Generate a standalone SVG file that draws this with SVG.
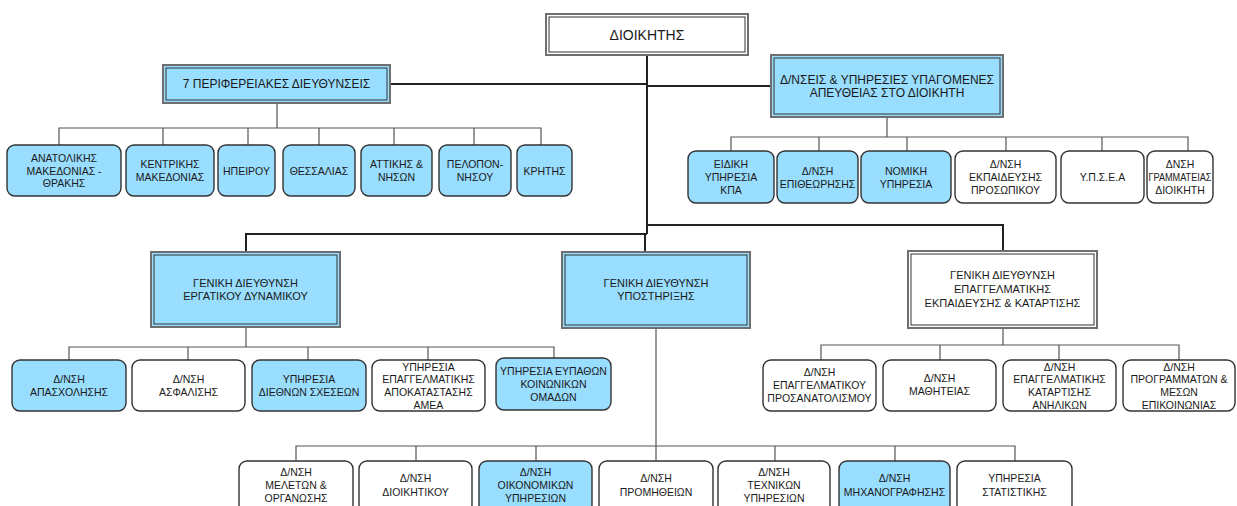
<svg xmlns="http://www.w3.org/2000/svg" width="1237" height="506" viewBox="0 0 1237 506">
  <style>
    text { font-family: "Liberation Sans", Arial, sans-serif; fill: #1a1a1a; text-anchor: middle; }
    .t { font-size: 10.5px; }
    .tg { font-size: 11px; }
    .tl { font-size: 12px; }
    .tt { font-size: 14px; }
    .box { stroke: #333; stroke-width: 1.4; }
    .blue { fill: #99ddff; }
    .white { fill: #ffffff; }
    .outer { stroke: #6f6f6f; stroke-width: 2; }
    .inner { fill: none; stroke: #333; stroke-width: 1; }
    .main { stroke: #222; stroke-width: 2; fill: none; }
    .sub { stroke: #555; stroke-width: 1.2; fill: none; }
  </style>

  <!-- connectors -->
  <g id="connectors">
    <!-- trunk from the head box -->
    <path class="main" d="M647 55 V234"/>
    <path class="main" d="M390 84 H647"/>
    <path class="main" d="M647 86 H771"/>
    <path class="main" d="M647 225 H1003 V251"/>
    <path class="main" d="M647 234 H246 V252"/>
    <path class="main" d="M645 234 V252"/>
    <!-- regional directorates -->
    <path class="sub" d="M277 103 V128"/>
    <path class="sub" d="M59 145 V128 H541 V145 M163 128 V145 M248 128 V145 M319 128 V145 M394 128 V145 M474 128 V145"/>
    <!-- units reporting to the head -->
    <path class="sub" d="M887 117 V137"/>
    <path class="sub" d="M731 151 V137 H1188 V151 M819 137 V151 M907 137 V151 M1006 137 V151 M1102 137 V151"/>
    <!-- labour force general directorate -->
    <path class="sub" d="M246 327 V347"/>
    <path class="sub" d="M69 360 V347 H554 V358 M188 347 V360 M308 347 V360 M428 347 V360"/>
    <!-- vocational training general directorate -->
    <path class="sub" d="M1003 328 V345"/>
    <path class="sub" d="M821 360 V345 H1179 V360 M940 345 V360 M1059 345 V360"/>
    <!-- support general directorate -->
    <path class="sub" d="M656 328 V461"/>
    <path class="sub" d="M296 461 V446 H1015 V461 M416 446 V461 M536 446 V461 M775 446 V461 M895 446 V461"/>
  </g>

  <!-- head -->
  <g id="dioikitis">
    <rect class="white outer" x="546" y="14" width="202" height="41"/>
    <rect class="inner" x="549" y="17" width="196" height="35"/>
    <text class="tt" x="647" y="40">ΔΙΟΙΚΗΤΗΣ</text>
  </g>

  <g id="perifereiakes">
    <rect class="blue outer" x="163" y="65" width="227" height="38"/>
    <rect class="inner" x="166" y="68" width="221" height="32"/>
    <text class="tl" x="276.5" y="88">7 ΠΕΡΙΦΕΡΕΙΑΚΕΣ ΔΙΕΥΘΥΝΣΕΙΣ</text>
  </g>

  <g id="ypagomenes">
    <rect class="blue outer" x="771" y="55" width="232" height="62"/>
    <rect class="inner" x="774" y="58" width="226" height="56"/>
    <text class="tl" x="887" y="83.5">Δ/ΝΣΕΙΣ &amp; ΥΠΗΡΕΣΙΕΣ ΥΠΑΓΟΜΕΝΕΣ</text>
    <text class="tl" x="887" y="97">ΑΠΕΥΘΕΙΑΣ ΣΤΟ ΔΙΟΙΚΗΤΗ</text>
  </g>

  <!-- regional directorates -->
  <g id="anatolikis">
    <rect class="box blue" x="7" y="145" width="114" height="51" rx="8"/>
    <text class="t" x="64" y="162">ΑΝΑΤΟΛΙΚΗΣ</text>
    <text class="t" x="64" y="174.5">ΜΑΚΕΔΟΝΙΑΣ -</text>
    <text class="t" x="64" y="187">ΘΡΑΚΗΣ</text>
  </g>
  <g id="kentrikis">
    <rect class="box blue" x="126" y="145" width="88" height="51" rx="8"/>
    <text class="t" x="170" y="168">ΚΕΝΤΡΙΚΗΣ</text>
    <text class="t" x="170" y="181">ΜΑΚΕΔΟΝΙΑΣ</text>
  </g>
  <g id="ipeirou">
    <rect class="box blue" x="218" y="145" width="57" height="51" rx="8"/>
    <text class="t" x="246.5" y="174.5">ΗΠΕΙΡΟΥ</text>
  </g>
  <g id="thessalias">
    <rect class="box blue" x="283" y="145" width="72" height="51" rx="8"/>
    <text class="t" x="319" y="174.5">ΘΕΣΣΑΛΙΑΣ</text>
  </g>
  <g id="attikis">
    <rect class="box blue" x="361" y="145" width="71" height="51" rx="8"/>
    <text class="t" x="396.5" y="168">ΑΤΤΙΚΗΣ &amp;</text>
    <text class="t" x="396.5" y="181">ΝΗΣΩΝ</text>
  </g>
  <g id="peloponnisou">
    <rect class="box blue" x="439" y="145" width="72" height="51" rx="8"/>
    <text class="t" x="475" y="168">ΠΕΛΟΠΟΝ-</text>
    <text class="t" x="475" y="181">ΝΗΣΟΥ</text>
  </g>
  <g id="kritis">
    <rect class="box blue" x="517" y="145" width="55" height="51" rx="8"/>
    <text class="t" x="544.5" y="174.5">ΚΡΗΤΗΣ</text>
  </g>

  <!-- units reporting to the head -->
  <g id="eidiki">
    <rect class="box blue" x="688" y="151" width="86" height="52" rx="8"/>
    <text class="t" x="731" y="168">ΕΙΔΙΚΗ</text>
    <text class="t" x="731" y="181">ΥΠΗΡΕΣΙΑ</text>
    <text class="t" x="731" y="194">ΚΠΑ</text>
  </g>
  <g id="epitheorisis">
    <rect class="box blue" x="777" y="151" width="81" height="52" rx="8"/>
    <text class="t" x="817.5" y="175">Δ/ΝΣΗ</text>
    <text class="t" x="817.5" y="188">ΕΠΙΘΕΩΡΗΣΗΣ</text>
  </g>
  <g id="nomiki">
    <rect class="box blue" x="861" y="151" width="90" height="52" rx="8"/>
    <text class="t" x="906" y="175">ΝΟΜΙΚΗ</text>
    <text class="t" x="906" y="188">ΥΠΗΡΕΣΙΑ</text>
  </g>
  <g id="ekpaidefsis-prosopikou">
    <rect class="box white" x="955" y="151" width="101" height="52" rx="8"/>
    <text class="t" x="1005.5" y="168">Δ/ΝΣΗ</text>
    <text class="t" x="1005.5" y="181">ΕΚΠΑΙΔΕΥΣΗΣ</text>
    <text class="t" x="1005.5" y="194">ΠΡΟΣΩΠΙΚΟΥ</text>
  </g>
  <g id="ypsea">
    <rect class="box white" x="1061" y="151" width="83" height="52" rx="8"/>
    <text class="t" x="1102.5" y="181">Υ.Π.Σ.Ε.Α</text>
  </g>
  <g id="grammateias">
    <rect class="box white" x="1147" y="151" width="66" height="52" rx="8"/>
    <text class="t" x="1180" y="168">ΔΝΣΗ</text>
    <text class="t" x="1180" y="181" textLength="63" lengthAdjust="spacingAndGlyphs">ΓΡΑΜΜΑΤΕΙΑΣ</text>
    <text class="t" x="1180" y="194">ΔΙΟΙΚΗΤΗ</text>
  </g>

  <!-- general directorates -->
  <g id="gd-ergatikou">
    <rect class="blue outer" x="151" y="252" width="189" height="75"/>
    <rect class="inner" x="154" y="255" width="183" height="69"/>
    <text class="tg" x="245.5" y="287">ΓΕΝΙΚΗ ΔΙΕΥΘΥΝΣΗ</text>
    <text class="tg" x="245.5" y="300">ΕΡΓΑΤΙΚΟΥ ΔΥΝΑΜΙΚΟΥ</text>
  </g>
  <g id="gd-ypostirixis">
    <rect class="blue outer" x="562" y="252" width="188" height="76"/>
    <rect class="inner" x="565" y="255" width="182" height="70"/>
    <text class="tg" x="656" y="286.5">ΓΕΝΙΚΗ ΔΙΕΥΘΥΝΣΗ</text>
    <text class="tg" x="656" y="300">ΥΠΟΣΤΗΡΙΞΗΣ</text>
  </g>
  <g id="gd-epaggelmatikis">
    <rect class="white outer" x="908" y="251" width="189" height="77"/>
    <rect class="inner" x="911" y="254" width="183" height="71"/>
    <text class="tg" x="1002.5" y="279">ΓΕΝΙΚΗ ΔΙΕΥΘΥΝΣΗ</text>
    <text class="tg" x="1002.5" y="293">ΕΠΑΓΓΕΛΜΑΤΙΚΗΣ</text>
    <text class="tg" x="1002.5" y="307">ΕΚΠΑΙΔΕΥΣΗΣ &amp; ΚΑΤΑΡΤΙΣΗΣ</text>
  </g>

  <!-- labour force units -->
  <g id="apasxolisis">
    <rect class="box blue" x="12" y="360" width="114" height="51" rx="8"/>
    <text class="t" x="69" y="383">Δ/ΝΣΗ</text>
    <text class="t" x="69" y="396">ΑΠΑΣΧΟΛΗΣΗΣ</text>
  </g>
  <g id="asfalisis">
    <rect class="box white" x="132" y="360" width="113" height="51" rx="8"/>
    <text class="t" x="188.5" y="383">Δ/ΝΣΗ</text>
    <text class="t" x="188.5" y="396">ΑΣΦΑΛΙΣΗΣ</text>
  </g>
  <g id="diethnon-sxeseon">
    <rect class="box blue" x="252" y="360" width="114" height="51" rx="8"/>
    <text class="t" x="309" y="383">ΥΠΗΡΕΣΙΑ</text>
    <text class="t" x="309" y="396">ΔΙΕΘΝΩΝ ΣΧΕΣΕΩΝ</text>
  </g>
  <g id="apokatastasis-amea">
    <rect class="box white" x="372" y="360" width="113" height="51" rx="8"/>
    <text class="t" x="428.5" y="370.5">ΥΠΗΡΕΣΙΑ</text>
    <text class="t" x="428.5" y="383">ΕΠΑΓΓΕΛΜΑΤΙΚΗΣ</text>
    <text class="t" x="428.5" y="396">ΑΠΟΚΑΤΑΣΤΑΣΗΣ</text>
    <text class="t" x="428.5" y="408.5">ΑΜΕΑ</text>
  </g>
  <g id="eypathon-omadon">
    <rect class="box blue" x="496" y="358" width="115" height="52" rx="8"/>
    <text class="t" x="553.5" y="375">ΥΠΗΡΕΣΙΑ ΕΥΠΑΘΩΝ</text>
    <text class="t" x="553.5" y="388">ΚΟΙΝΩΝΙΚΩΝ</text>
    <text class="t" x="553.5" y="401">ΟΜΑΔΩΝ</text>
  </g>

  <!-- vocational training units -->
  <g id="prosanatolismou">
    <rect class="box white" x="763" y="360" width="113" height="51" rx="8"/>
    <text class="t" x="819.5" y="376">Δ/ΝΣΗ</text>
    <text class="t" x="819.5" y="389">ΕΠΑΓΓΕΛΜΑΤΙΚΟΥ</text>
    <text class="t" x="819.5" y="402">ΠΡΟΣΑΝΑΤΟΛΙΣΜΟΥ</text>
  </g>
  <g id="mathiteias">
    <rect class="box white" x="883" y="360" width="113" height="51" rx="8"/>
    <text class="t" x="939.5" y="382">Δ/ΝΣΗ</text>
    <text class="t" x="939.5" y="395">ΜΑΘΗΤΕΙΑΣ</text>
  </g>
  <g id="katartisis-anilikon">
    <rect class="box white" x="1003" y="360" width="113" height="51" rx="8"/>
    <text class="t" x="1059.5" y="370.5">Δ/ΝΣΗ</text>
    <text class="t" x="1059.5" y="383">ΕΠΑΓΓΕΛΜΑΤΙΚΗΣ</text>
    <text class="t" x="1059.5" y="396">ΚΑΤΑΡΤΙΣΗΣ</text>
    <text class="t" x="1059.5" y="408.5">ΑΝΗΛΙΚΩΝ</text>
  </g>
  <g id="programmaton">
    <rect class="box white" x="1123" y="360" width="112" height="51" rx="8"/>
    <text class="t" x="1179" y="370.5">Δ/ΝΣΗ</text>
    <text class="t" x="1179" y="383">ΠΡΟΓΡΑΜΜΑΤΩΝ &amp;</text>
    <text class="t" x="1179" y="396">ΜΕΣΩΝ</text>
    <text class="t" x="1179" y="408.5">ΕΠΙΚΟΙΝΩΝΙΑΣ</text>
  </g>

  <!-- support units -->
  <g id="meleton">
    <rect class="box white" x="239" y="461" width="114" height="52" rx="8"/>
    <text class="t" x="296" y="476">Δ/ΝΣΗ</text>
    <text class="t" x="296" y="489">ΜΕΛΕΤΩΝ &amp;</text>
    <text class="t" x="296" y="502">ΟΡΓΑΝΩΣΗΣ</text>
  </g>
  <g id="dioikitikou">
    <rect class="box white" x="359" y="461" width="113" height="52" rx="8"/>
    <text class="t" x="415.5" y="482">Δ/ΝΣΗ</text>
    <text class="t" x="415.5" y="496">ΔΙΟΙΚΗΤΙΚΟΥ</text>
  </g>
  <g id="oikonomikon">
    <rect class="box blue" x="479" y="461" width="113" height="52" rx="8"/>
    <text class="t" x="535.5" y="476">Δ/ΝΣΗ</text>
    <text class="t" x="535.5" y="489">ΟΙΚΟΝΟΜΙΚΩΝ</text>
    <text class="t" x="535.5" y="502">ΥΠΗΡΕΣΙΩΝ</text>
  </g>
  <g id="promitheion">
    <rect class="box white" x="599" y="461" width="114" height="52" rx="8"/>
    <text class="t" x="656" y="482">Δ/ΝΣΗ</text>
    <text class="t" x="656" y="496">ΠΡΟΜΗΘΕΙΩΝ</text>
  </g>
  <g id="texnikon">
    <rect class="box white" x="718" y="461" width="112" height="52" rx="8"/>
    <text class="t" x="774" y="476">Δ/ΝΣΗ</text>
    <text class="t" x="774" y="489">ΤΕΧΝΙΚΩΝ</text>
    <text class="t" x="774" y="502">ΥΠΗΡΕΣΙΩΝ</text>
  </g>
  <g id="mixanografisis">
    <rect class="box blue" x="839" y="461" width="111" height="52" rx="8"/>
    <text class="t" x="894.5" y="482">Δ/ΝΣΗ</text>
    <text class="t" x="894.5" y="496">ΜΗΧΑΝΟΓΡΑΦΗΣΗΣ</text>
  </g>
  <g id="statistikis">
    <rect class="box white" x="957" y="461" width="115" height="52" rx="8"/>
    <text class="t" x="1014.5" y="482">ΥΠΗΡΕΣΙΑ</text>
    <text class="t" x="1014.5" y="496">ΣΤΑΤΙΣΤΙΚΗΣ</text>
  </g>
</svg>
